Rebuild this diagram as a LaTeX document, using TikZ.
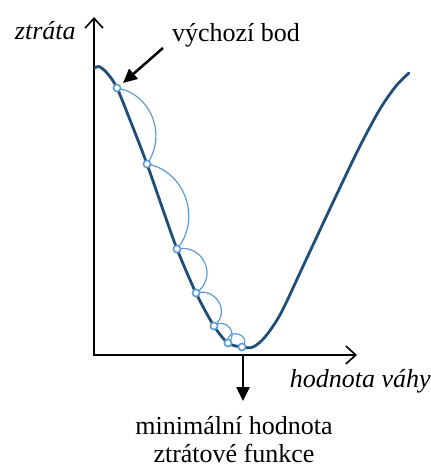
\documentclass[tikz,border=0pt]{standalone}
\usepackage{fontspec}
\setmainfont{Liberation Serif}
\usetikzlibrary{arrows.meta}
\definecolor{curveblue}{RGB}{31,78,121}
\definecolor{stepblue}{RGB}{91,155,213}

\begin{document}
\begin{tikzpicture}[x=0.5pt,y=0.5pt,>=Latex,
  axis/.style={line width=0.8pt,{Straight Barb[length=5pt,width=9pt]}-{Straight Barb[length=5pt,width=9pt]}},
  pointer/.style={line width=1.25pt,-{Triangle[length=7pt,width=6.5pt]}},
  loss/.style={curveblue,line width=1.4pt,line cap=round},
  hop/.style={stepblue,line width=0.6pt},
  dot/.style={circle,draw=stepblue,fill=white,line width=0.8pt,inner sep=0pt,minimum size=3.6pt},
  txt/.style={inner sep=0pt,font=\rmfamily\fontsize{13}{14}\selectfont}]
\useasboundingbox (0,0) rectangle (431,-469);
\coordinate (O) at (94,-355);
% axes
\coordinate (ytop) at (94,-17);
\coordinate (xend) at (357,-355);
\draw[axis] (ytop) -- (O) -- (xend);
\node[txt,font=\rmfamily\fontsize{13}{14}\selectfont\itshape,anchor=east] (ylab) at (76,-31) {ztráta};
\node[txt,font=\rmfamily\fontsize{13}{14}\selectfont\itshape,anchor=east] (xlab) at (431,-381) {hodnota váhy};
% steps on the curve
\coordinate (p1) at (117,-88);
\coordinate (p2) at (147,-164);
\coordinate (p3) at (177,-249);
\coordinate (p4) at (196,-293);
\coordinate (p5) at (214,-326);
\coordinate (p6) at (228,-343);
\coordinate (p7) at (242,-347);
% loss curve
\draw[loss] plot[smooth] coordinates {(95,-68) (99,-66.5) (107,-73) (p1) (132,-125) (p2) (162,-207) (p3) (p4) (p5) (p6) (p7) (253,-347) (265,-337) (281,-313) (305,-262) (335,-198) (360,-146) (380,-109) (396,-86) (409,-73)};
% jumps
\draw[hop] (p1) to[out=-10,in=55,looseness=1.1] (p2);
\draw[hop] (p2) to[out=-10,in=50,looseness=1.1] (p3);
\draw[hop] (p3) to[out=12,in=34,looseness=1.45] (p4);
\draw[hop] (p4) to[out=16,in=38,looseness=1.45] (p5);
\draw[hop] (p5) to[out=39,in=40,looseness=1.7] (p6);
\draw[hop] (p6) to[out=100,in=46,looseness=3] (p7);
\foreach \p in {1,...,7}
  \node[dot] (d\p) at (p\p) {};
% start point
\node[txt] (start) at (236,-35) {výchozí bod};
\coordinate (starttail) at (163,-48);
\coordinate (starthead) at (123,-83);
\draw[pointer] (starttail) -- (starthead);
% minimum
\coordinate (min) at (243,-355);
\coordinate (minhead) at (243,-401);
\draw[pointer] (min) -- (minhead);
\node[txt,align=center] (minlab) at (234,-440) {minimální hodnota\\ztrátové funkce};
\end{tikzpicture}
\end{document}
